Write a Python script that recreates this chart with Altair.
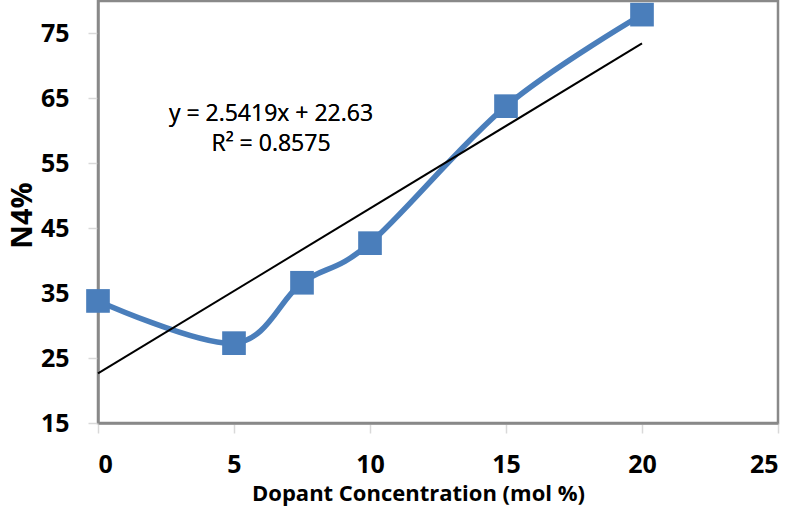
import altair as alt
import pandas as pd

# Measured N4 fraction versus dopant concentration
dopant = [0, 5, 7.5, 10, 15, 20]
n4 = [33.8, 27.3, 36.6, 42.7, 63.8, 77.9]

# Linear trendline reported on the chart
slope = 2.5419
intercept = 22.63
fit_x = [0, 20]

points = pd.DataFrame({"x": dopant, "y": n4})
fit = pd.DataFrame({"x": fit_x})

blue = "#4A7EBB"
gray = "#898989"
font = "Open Sans"

x_enc = alt.X(
    "x:Q",
    scale=alt.Scale(domain=[0, 25], nice=False),
    axis=alt.Axis(
        values=[0, 5, 10, 15, 20, 25],
        title="Dopant Concentration (mol %)",
        titleFontSize=22,
        titleFont=font,
        titleFontWeight="bold",
        titleX=320,
        titleY=70,
        titleBaseline="middle",
        titleAlign="center",
    ),
)
y_enc = alt.Y(
    "y:Q",
    scale=alt.Scale(domain=[15, 80], nice=False),
    axis=alt.Axis(
        values=[15, 25, 35, 45, 55, 65, 75],
        title="N4%",
        titleFontSize=29,
        titleFont=font,
        titleFontWeight="bold",
        titleX=-76,
        titleY=214,
        titleAngle=-90,
        titleBaseline="middle",
        titleAlign="center",
    ),
)

curve = (
    alt.Chart(points)
    .mark_line(interpolate="cardinal", color=blue, strokeWidth=5.5)
    .encode(x=x_enc, y=y_enc)
)

markers = (
    alt.Chart(points)
    .mark_point(shape="square", filled=True, opacity=1, size=560, color=blue)
    .encode(x="x:Q", y="y:Q")
)

trend = (
    alt.Chart(fit)
    .transform_calculate(y=f"{slope} * datum.x + {intercept}")
    .mark_line(color="black", strokeWidth=2)
    .encode(x="x:Q", y="y:Q")
)

eq1 = (
    alt.Chart(fit)
    .mark_text(text=f"y = {slope}x + {intercept}", fontSize=23, font=font, color="black")
    .encode(x=alt.value(173), y=alt.value(113))
)
eq2 = (
    alt.Chart(fit)
    .mark_text(text="R\u00b2 = 0.8575", fontSize=23, font=font, color="black")
    .encode(x=alt.value(173), y=alt.value(143))
)

chart = (
    alt.layer(curve, trend, markers, eq1, eq2)
    .properties(
        width=680,
        height=422,
        autosize=alt.AutoSizeParams(type="none"),
        padding={"left": 98, "top": 1, "right": 14, "bottom": 85},
    )
    .configure_view(stroke=gray, strokeWidth=2.5)
    .configure_axis(
        grid=False,
        domainColor=gray,
        domainWidth=2.5,
        tickColor="#d9d9d9",
        tickWidth=1.5,
        tickSize=10,
        labelFont=font,
        labelFontSize=25,
        labelFontWeight="bold",
        labelColor="black",
        labelPadding=19,
        titleColor="black",
    )
)

chart.save("out.html", embed_options={"renderer": "svg", "actions": False})
